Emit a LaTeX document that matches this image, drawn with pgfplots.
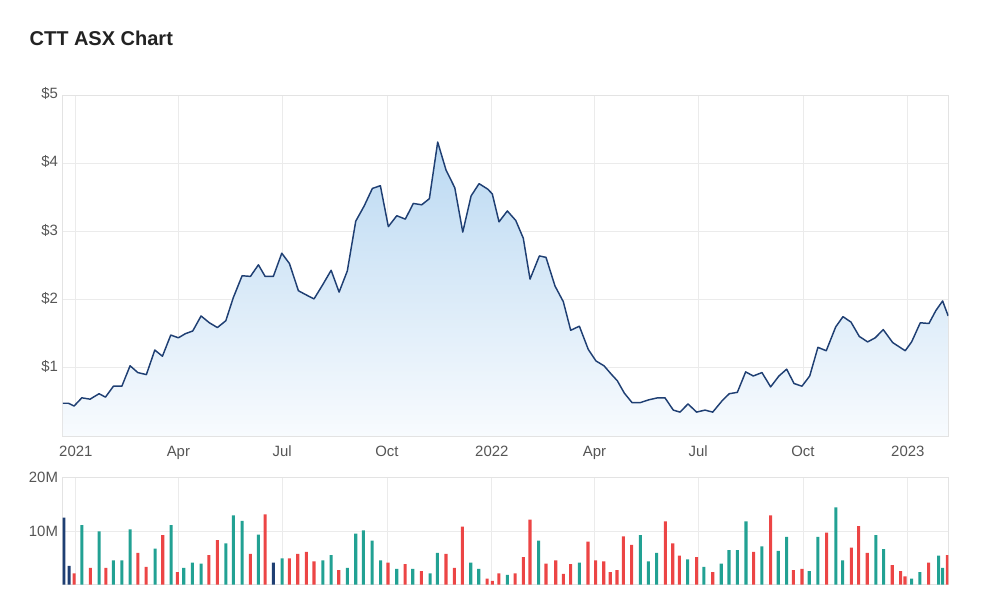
\documentclass[border=0pt]{standalone}
\usepackage{pgfplots}
\pgfplotsset{compat=1.18}
\usepackage{fontspec}
\setmainfont{Liberation Sans}
\definecolor{linec}{HTML}{1F3F73}
\definecolor{fillt}{HTML}{BBD9F2}
\definecolor{fillb}{HTML}{F8FBFE}
\definecolor{navyb}{HTML}{1F3F73}
\definecolor{tealb}{HTML}{22A193}
\definecolor{redb}{HTML}{EC4545}
\definecolor{gridc}{HTML}{EBEBEB}
\definecolor{framec}{HTML}{E3E3E3}
\definecolor{tickc}{HTML}{555555}
\definecolor{titlec}{HTML}{222222}

\pgfplotsset{common/.style={
  scale only axis, width=664.2pt, xmin=-11.5, xmax=765.5,
  xtick={0,90,181,273,365,455,546,638,730},
  xmajorgrids, ymajorgrids, grid style={gridc, line width=0.6pt},
  axis line style={framec, line width=0.6pt}, major tick length=0pt,
  tick label style={font=\fontsize{11.2}{13}\selectfont, text=tickc},
  /pgf/number format/assume math mode=true,
}}

\begin{document}
\begin{tikzpicture}
\useasboundingbox (0,0) rectangle (750pt,-456.75pt);
\node[anchor=west, inner sep=0pt, text=titlec, font=\bfseries\fontsize{15}{18}\selectfont] at (22pt,-29pt) {CTT ASX Chart};

\begin{axis}[common, at={(47.03pt,-327pt)}, anchor=south west, height=255.75pt,
  ymin=0, ymax=5, ytick={1,2,3,4,5}, yticklabels={\$1,\$2,\$3,\$4,\$5},
  xticklabels={2021,Apr,Jul,Oct,2022,Apr,Jul,Oct,2023},
  xticklabel style={yshift=-4pt}, yticklabel style={yshift=1pt}]
\pgfplotstableread{
d p
-11.4 0.48
-6.5 0.48
-1.5 0.44
5.3 0.56
12.5 0.54
20.4 0.62
26 0.57
33 0.73
40.4 0.73
47.6 1.03
54.4 0.93
61.9 0.90
69.3 1.26
76 1.17
83.3 1.48
90 1.44
96.1 1.50
102.6 1.54
109.9 1.76
117.2 1.66
124.2 1.59
131.6 1.69
138.2 2.03
145.9 2.35
153.2 2.34
160.2 2.51
166.1 2.34
173.3 2.34
180.7 2.68
187.4 2.53
195.3 2.13
202 2.07
209 2.01
216.7 2.22
224 2.43
231 2.11
238.2 2.42
245.6 3.15
252.9 3.37
260.2 3.63
267.2 3.67
274.2 3.07
281.6 3.23
289.1 3.18
296.1 3.41
303.5 3.39
310.2 3.48
317.5 4.31
324.8 3.90
332.5 3.64
339.5 2.99
346.8 3.52
353.8 3.70
361.4 3.62
365.4 3.55
371.3 3.14
378.6 3.30
386 3.16
392.6 2.90
398.5 2.30
406.7 2.64
412.5 2.62
420.4 2.20
427.7 1.97
434.2 1.55
441.8 1.61
449.6 1.27
456.4 1.10
463.4 1.03
469.6 0.91
475.1 0.81
481.2 0.63
488 0.49
495.3 0.49
502.6 0.53
510.5 0.56
516.9 0.56
524.2 0.38
530.1 0.35
537.1 0.47
544.7 0.35
552 0.38
558.8 0.35
566.7 0.51
573.3 0.62
580.4 0.64
587.7 0.94
594.4 0.88
602 0.93
609.6 0.72
616.9 0.88
623.7 0.98
630.1 0.77
637.1 0.73
643.9 0.88
651.1 1.30
658.4 1.25
666.7 1.60
673.1 1.75
680.1 1.67
687.4 1.46
694.7 1.38
701.4 1.44
708.4 1.56
716.7 1.37
723.1 1.30
727.7 1.25
733.3 1.38
740.9 1.66
748.5 1.65
754.6 1.84
760.5 1.98
765.4 1.76
}\price
\addplot[draw=none, top color=fillt, bottom color=fillb] table[x=d,y=p] {\price} \closedcycle;
\addplot[linec, line width=1.1pt, line join=round] table[x=d,y=p] {\price};
\end{axis}

\begin{axis}[common, at={(47.03pt,-438.4pt)}, anchor=south west, height=80.4pt,
  ymin=0, ymax=20, ytick={10,20}, yticklabels={10M,20M}, xticklabels={},
  ybar, bar width=2.3pt, bar shift=0pt]
\addplot[draw=none, fill=navyb] coordinates {(-10.6,12.5) (-5.9,3.5) (173.3,4.1)};
\addplot[draw=none, fill=tealb] coordinates {
(5.3,11.1) (20.4,9.9) (33,4.5) (40.4,4.5) (47.6,10.3) (69.6,6.7) (83.6,11.1)
(94.7,3.1) (102.3,4.1) (109.9,3.9) (131.6,7.7) (138.2,12.9) (145.9,11.9)
(160.2,9.3) (181,4.9) (216.7,4.5) (224,5.5) (238.2,3.1) (245.6,9.5)
(252.3,10.1) (259.9,8.2) (267.5,4.5) (281.6,2.9) (295.6,2.9) (310.8,2.1)
(317.2,5.9) (346.5,4.1) (353.5,2.9) (378.6,1.8) (406.1,8.2) (441.8,4.1)
(495.3,9.2) (502.3,4.3) (509.6,5.9) (536.8,4.7) (551.1,3.3) (566.3,3.9)
(573.1,6.4) (580.4,6.4) (588,11.8) (602,7.1) (616.3,6.3) (623.7,8.9)
(643.5,2.5) (651.1,8.9) (666.9,14.4) (672.8,4.5) (702,9.2) (708.8,6.6)
(733.3,1.1) (740.6,2.3) (757,5.4) (760.5,3.1)};
\addplot[draw=none, fill=redb] coordinates {
(-1.5,2.1) (12.8,3.1) (26.3,3.1) (54.4,5.9) (61.7,3.3) (76.3,9.2) (89.1,2.3)
(116.7,5.5) (124.2,8.3) (153.2,5.7) (166.1,13.1) (187.4,4.9) (194.7,5.7)
(202.3,6.1) (209,4.3) (230.7,2.7) (273.9,4.1) (288.9,3.8) (303.2,2.5)
(324.8,5.7) (332.1,3.1) (339.1,10.8) (360.8,1.1) (365.4,0.7) (371.1,2.1)
(385.4,2.1) (392.6,5.1) (398.5,12.1) (412.5,3.9) (421.1,4.5) (427.7,2.0)
(434.2,3.8) (449.4,8.0) (456.1,4.5) (463.2,4.3) (468.9,2.3) (474.8,2.7)
(480.4,9.0) (487.7,7.4) (517.2,11.8) (523.7,7.7) (529.5,5.4) (544.7,5.1)
(558.8,2.3) (594.7,6.1) (609.6,12.9) (629.5,2.7) (637.1,2.9) (658.8,9.7)
(680.4,6.9) (686.8,10.9) (694.4,5.9) (716.3,3.6) (723.7,2.5) (727.5,1.5)
(748.2,4.1) (764.6,5.5)};
\end{axis}
\end{tikzpicture}
\end{document}
